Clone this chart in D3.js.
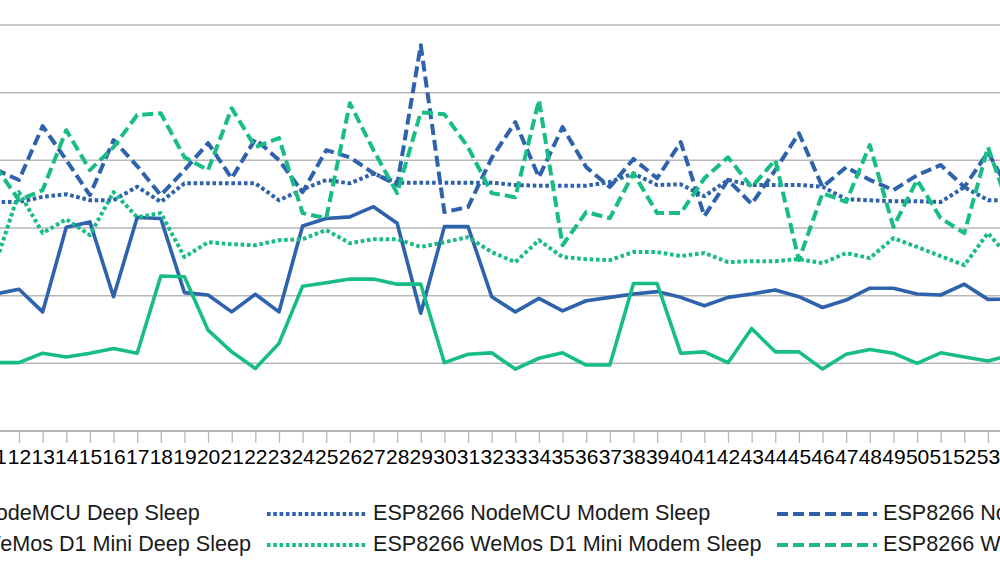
<!DOCTYPE html>
<html><head><meta charset="utf-8">
<script src="https://cdn.jsdelivr.net/npm/d3@7"></script>
<style>html,body{margin:0;padding:0;background:#fff;overflow:hidden}</style>
</head><body>
<svg id="chart" width="1000" height="563"></svg>
<script>
// Category labels (visible part of the chart: 11 .. 54)
const categories = ["11","12","13","14","15","16","17","18","19","20","21","22","23","24","25","26","27","28","29","30","31","32","33","34","35","36","37","38","39","40","41","42","43","44","45","46","47","48","49","50","51","52","53","54"];

const nodemcuDeep  = [40.5,41.9,35.2,60.2,61.8,39.7,63.1,62.8,40.9,40.2,35.2,40.4,35.2,60.6,62.8,63.3,66.3,61.4,34.8,60.4,60.4,39.7,35.2,39.2,35.5,38.5,39.5,40.5,41.2,39.5,37.0,39.5,40.5,41.7,39.7,36.5,38.7,42.2,42.2,40.5,40.2,43.4,38.9,39.0];
const nodemcuModem = [67.7,67.7,69.2,70.0,68.2,68.2,72.2,67.7,73.2,73.2,73.2,73.2,68.2,71.4,74.2,73.2,76.1,73.4,73.4,73.4,73.4,73.4,72.7,72.5,72.5,72.5,73.6,76.1,72.7,72.9,69.4,74.2,72.7,72.7,72.7,72.2,68.5,68.2,67.9,67.9,67.7,72.1,68.2,68.2];
const nodemcuLight = [77.3,74.2,90.1,80.1,69.7,86.0,78.3,69.7,77.1,85.1,74.7,86.3,80.1,70.6,83.0,80.9,76.2,72.7,114.0,64.7,66.2,80.7,91.3,75.0,89.8,78.0,72.1,80.4,74.7,85.4,63.5,74.2,67.1,77.1,88.0,72.1,78.0,74.2,71.2,75.6,78.6,72.1,82.4,69.7];
const wemosDeep    = [20.2,20.2,23.0,21.9,23.0,24.4,23.0,45.8,45.6,29.8,23.4,18.5,25.9,42.8,43.8,44.9,44.9,43.4,43.4,20.2,22.7,23.1,18.3,21.5,23.1,19.5,19.5,43.6,43.6,23.0,23.4,20.2,30.3,23.4,23.4,18.3,22.7,24.1,23.0,20.0,23.1,21.9,20.7,22.5];
const wemosModem   = [49.3,70.6,58.5,62.6,57.9,70.6,63.2,64.4,51.4,55.8,55.2,54.9,56.4,56.7,59.4,55.5,56.7,56.7,54.4,55.8,57.3,52.9,49.9,56.4,51.4,50.8,50.5,52.9,52.9,51.7,52.6,49.9,50.2,50.2,50.8,49.6,52.6,51.1,57.0,54.4,51.7,49.0,58.5,50.5];
const wemosLight   = [78.3,68.2,71.2,88.9,77.1,83.9,93.4,93.9,80.9,77.1,95.4,83.9,86.6,64.4,62.9,96.9,83.0,70.3,94.2,93.6,83.9,70.3,69.1,97.8,54.9,64.7,62.9,76.2,64.4,64.4,74.7,80.9,72.1,80.1,50.5,70.3,67.7,84.5,60.3,74.2,62.9,58.5,83.9,63.8];

const yTicks = [0,20,40,60,80,100,120];

const seriesNames = [
  "ESP8266 NodeMCU Deep Sleep","ESP8266 NodeMCU Modem Sleep","ESP8266 NodeMCU Light Sleep",
  "ESP8266 WeMos D1 Mini Deep Sleep","ESP8266 WeMos D1 Mini Modem Sleep","ESP8266 WeMos D1 Mini Light Sleep"
];

const BLUE = "#2f62ad", GREEN = "#17bd84";
const DOT = "3.6,2.7", DASH = "11,5";
const series = [
  {name: seriesNames[0], values: nodemcuDeep,  color: BLUE,  dash: null},
  {name: seriesNames[1], values: nodemcuModem, color: BLUE,  dash: DOT},
  {name: seriesNames[2], values: nodemcuLight, color: BLUE,  dash: DASH},
  {name: seriesNames[3], values: wemosDeep,    color: GREEN, dash: null},
  {name: seriesNames[4], values: wemosModem,   color: GREEN, dash: DOT},
  {name: seriesNames[5], values: wemosLight,   color: GREEN, dash: DASH}
];

const svg = d3.select("#chart");
const FONT = "'Liberation Sans', Arial, sans-serif";

const x = d3.scalePoint().domain(categories).range([-4.63, 1011.6]);
const y = d3.scaleLinear().domain([0,120]).range([431, 25]);

// gridlines
svg.append("g").selectAll("line").data(yTicks.filter(d => d > 0)).join("line")
  .attr("x1", -300).attr("x2", 1300)
  .attr("y1", d => y(d)).attr("y2", d => y(d))
  .attr("stroke", "#b8b8b8").attr("stroke-width", 1.5);

// x axis
const xAxis = svg.append("g").attr("transform", `translate(0,${y(0)})`)
  .call(d3.axisBottom(x).tickSize(12).tickPadding(6).tickSizeOuter(0));
xAxis.select(".domain").remove();
xAxis.selectAll(".tick line").attr("stroke", "#b8b8b8").attr("stroke-width", 1.3);
xAxis.selectAll(".tick text").attr("font-family", FONT).attr("font-size", 21).attr("fill", "#000");
svg.append("line").attr("x1", -300).attr("x2", 1300).attr("y1", y(0)).attr("y2", y(0))
  .attr("stroke", "#b3b3b3").attr("stroke-width", 2);

// lines
const line = d3.line().x((d, i) => x(categories[i])).y(d => y(d));
svg.append("g").selectAll("path").data(series).join("path")
  .attr("d", d => line(d.values))
  .attr("fill", "none")
  .attr("stroke", d => d.color)
  .attr("stroke-width", d => d.dash ? 4 : 3.6)
  .attr("stroke-linejoin", "round")
  .attr("stroke-dasharray", d => d.dash);

// legend (3 columns x 2 rows)
const colSym = [-230, 267, 777];
const rowY = [514, 545];
const lg = svg.append("g");
series.forEach((s, i) => {
  const col = i % 3, row = Math.floor(i / 3);
  const g = lg.append("g");
  g.append("line").attr("x1", colSym[col]).attr("x2", colSym[col] + 100)
    .attr("y1", rowY[row]).attr("y2", rowY[row])
    .attr("stroke", s.color).attr("stroke-width", 4)
    .attr("stroke-dasharray", s.dash);
  g.append("text").attr("x", colSym[col] + 106).attr("y", rowY[row] + 6)
    .attr("font-family", FONT).attr("font-size", 21.6).attr("fill", "#1a1a1a")
    .text(s.name);
});
// first column: align so its longest label ends right before column 2
const t0 = lg.selectAll("text").filter((d, i) => i % 3 === 0);
const w = d3.max(t0.nodes(), n => n.getComputedTextLength());
const shift = 251 - (colSym[0] + 106 + w);
lg.selectAll("g").filter((d, i) => i % 3 === 0).attr("transform", `translate(${shift},0)`);
</script>
</body></html>
